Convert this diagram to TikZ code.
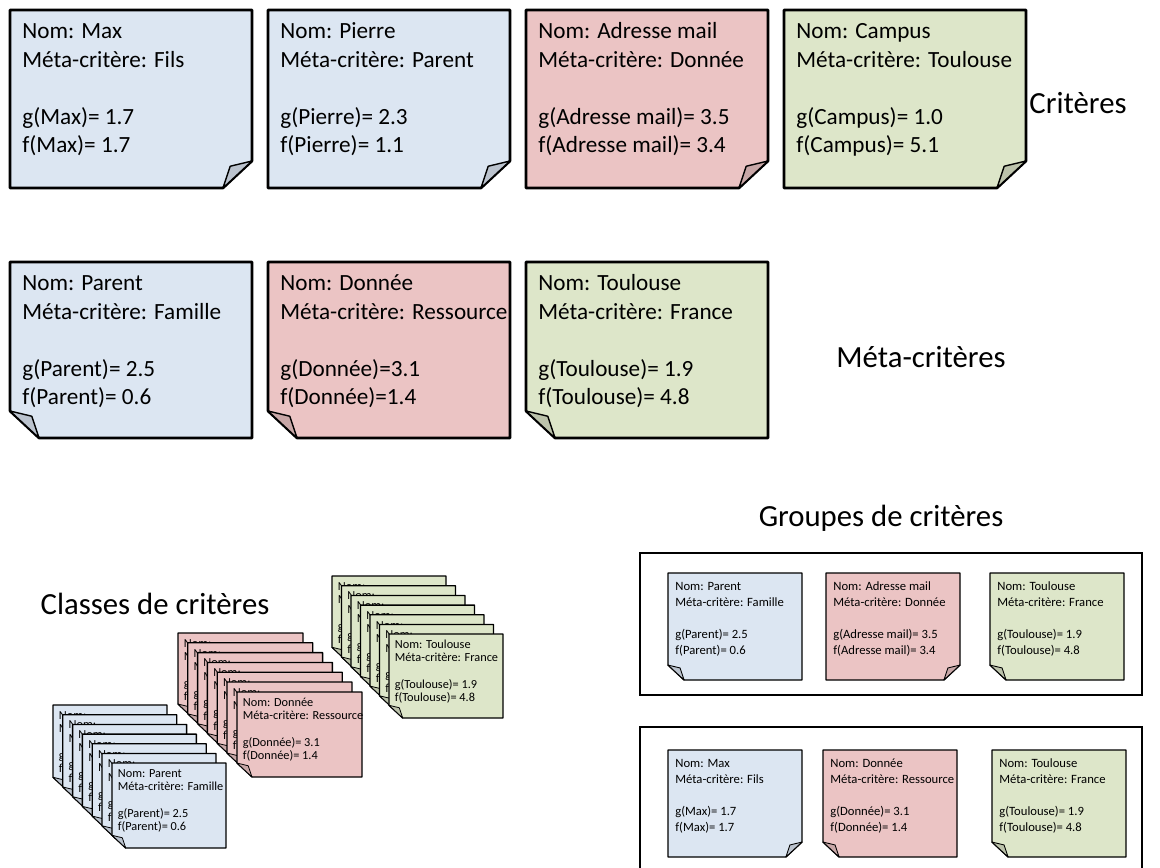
\documentclass[tikz,border=0pt]{standalone}
\usepackage{fontspec}
\setmainfont{Carlito}
\definecolor{cardblue}{HTML}{DCE6F2}
\definecolor{cardred}{HTML}{EBC4C4}
\definecolor{cardgreen}{HTML}{DDE6C9}
\tikzstyle{bigcard} = [line width=1.5pt, line join=round]
\tikzstyle{midcard} = [line width=0.8pt, line join=round]
\tikzstyle{tinycard} = [line width=0.75pt, line join=round]
\tikzstyle{bigcard flap} = [line width=0.8pt, line join=round]
\tikzstyle{midcard flap} = [line width=0.5pt, line join=round]
\tikzstyle{tinycard flap} = [line width=0.45pt, line join=round]
\tikzset{
  bigcard text/.style={font=\fontsize{13.2}{16.3}\selectfont, align=left, inner sep=0pt, xshift=0.24cm, yshift=-0.19cm},
  midcard text/.style={font=\fontsize{7.2}{9.1}\selectfont, align=left, inner sep=0pt, xshift=0.14cm, yshift=-0.15cm},
  tinycard text/.style={font=\fontsize{7}{7.6}\selectfont, align=left, inner sep=0pt, xshift=0.11cm, yshift=-0.08cm},
  title/.style={font=\fontsize{17.5}{21}\selectfont, inner sep=0pt},
  groupbox/.style={line width=0.8pt}
}
% #1 name, #2 top left, #3 width, #4 height, #5 colour, #6 fold (l/r), #7 size, #8 text
\newcommand{\postit}[8]{%
  \begin{scope}[shift={(#2)}]
    \pgfmathsetmacro{\fold}{0.12*#3}
    \if r#6
      \draw[#7, fill=#5] (0,0) -- (#3,0) -- (#3,#4-0.93*\fold) -- (#3-\fold,#4) -- (0,#4) -- cycle;
      \draw[#7 flap, fill=#5!85!black] (#3-\fold,#4) -- (#3-0.75*\fold,#4-0.75*\fold) -- (#3,#4-0.93*\fold) -- cycle;
    \else
      \draw[#7, fill=#5] (0,0) -- (#3,0) -- (#3,#4) -- (\fold,#4) -- (0,#4-0.93*\fold) -- cycle;
      \draw[#7 flap, fill=#5!85!black] (\fold,#4) -- (0.75*\fold,#4-0.75*\fold) -- (0,#4-0.93*\fold) -- cycle;
    \fi
    \node[#7 text, anchor=north west] (#1) at (0,0) {\rule{0pt}{0.8em}#8};
  \end{scope}}

\begin{document}
\begin{tikzpicture}[x=0.02cm, y=-0.02cm]
  \useasboundingbox (0,0) rectangle (1160,867);

  % criteres
  \postit{max}{10,10}{242}{178}{cardblue}{r}{bigcard}{Nom: Max\\Méta-critère: Fils\\[16.3pt]g(Max)= 1.7\\f(Max)= 1.7}
  \postit{pierre}{268,10}{242}{178}{cardblue}{r}{bigcard}{Nom: Pierre\\Méta-critère: Parent\\[16.3pt]g(Pierre)= 2.3\\f(Pierre)= 1.1}
  \postit{mail}{526,10}{242}{178}{cardred}{r}{bigcard}{Nom: Adresse mail\\Méta-critère: Donnée\\[16.3pt]g(Adresse mail)= 3.5\\f(Adresse mail)= 3.4}
  \postit{campus}{784,10}{242}{178}{cardgreen}{r}{bigcard}{Nom: Campus\\Méta-critère: Toulouse\\[16.3pt]g(Campus)= 1.0\\f(Campus)= 5.1}
  \node[title] (critLbl) at (1078,103) {Critères};

  % meta-criteres
  \postit{parent}{10,262}{242}{176}{cardblue}{l}{bigcard}{Nom: Parent\\Méta-critère: Famille\\[16.3pt]g(Parent)= 2.5\\f(Parent)= 0.6}
  \postit{donnee}{268,262}{242}{176}{cardred}{l}{bigcard}{Nom: Donnée\\Méta-critère: Ressource\\[16.3pt]g(Donnée)=3.1\\f(Donnée)=1.4}
  \postit{toulouse}{526,262}{242}{176}{cardgreen}{l}{bigcard}{Nom: Toulouse\\Méta-critère: France\\[16.3pt]g(Toulouse)= 1.9\\f(Toulouse)= 4.8}
  \node[title] (metaLbl) at (921,357) {Méta-critères};

  % classes
  \node[title] (classLbl) at (155,604) {Classes de critères};
  \foreach \i in {0,...,5}
    \postit{vert\i}{332+9.5*\i,576+9.7*\i}{114}{84}{cardgreen}{l}{tinycard}{Nom:\\Méta-critère:\\[7.6pt]g\\f};
  \postit{classvert}{389,634}{114}{84}{cardgreen}{l}{tinycard}{Nom: Toulouse\\Méta-critère: France\\[7.6pt]g(Toulouse)= 1.9\\f(Toulouse)= 4.8}
  \foreach \i in {0,...,5}
    \postit{rouge\i}{178+9.8*\i,633+9.8*\i}{125}{85}{cardred}{l}{tinycard}{Nom:\\Méta-critère:\\[7.6pt]g\\f};
  \postit{classrouge}{237,692}{125}{85}{cardred}{l}{tinycard}{Nom: Donnée\\Méta-critère: Ressource\\[7.6pt]g(Donnée)= 3.1\\f(Donnée)= 1.4}
  \foreach \i in {0,...,5}
    \postit{bleu\i}{53+9.8*\i,705+9.7*\i}{114}{85}{cardblue}{l}{tinycard}{Nom:\\Méta-critère:\\[7.6pt]g\\f};
  \postit{classbleu}{112,763}{114}{85}{cardblue}{l}{tinycard}{Nom: Parent\\Méta-critère: Famille\\[7.6pt]g(Parent)= 2.5\\f(Parent)= 0.6}

  % groupes
  \node[title] (groupLbl) at (881,518) {Groupes de critères};
  \draw[groupbox] (640,553) rectangle (1142,695);
  \postit{grpA1}{668,573}{134}{107}{cardblue}{l}{midcard}{Nom: Parent\\Méta-critère: Famille\\[9.1pt]g(Parent)= 2.5\\f(Parent)= 0.6}
  \postit{grpA2}{826,573}{134}{107}{cardred}{r}{midcard}{Nom: Adresse mail\\Méta-critère: Donnée\\[9.1pt]g(Adresse mail)= 3.5\\f(Adresse mail)= 3.4}
  \postit{grpA3}{990,573}{134}{107}{cardgreen}{l}{midcard}{Nom: Toulouse\\Méta-critère: France\\[9.1pt]g(Toulouse)= 1.9\\f(Toulouse)= 4.8}
  \draw[groupbox] (640,727) rectangle (1142,890);
  \postit{grpB1}{668,750}{134}{107}{cardblue}{r}{midcard}{Nom: Max\\Méta-critère: Fils\\[9.1pt]g(Max)= 1.7\\f(Max)= 1.7}
  \postit{grpB2}{823,750}{134}{107}{cardred}{l}{midcard}{Nom: Donnée\\Méta-critère: Ressource\\[9.1pt]g(Donnée)= 3.1\\f(Donnée)= 1.4}
  \postit{grpB3}{992,750}{134}{107}{cardgreen}{l}{midcard}{Nom: Toulouse\\Méta-critère: France\\[9.1pt]g(Toulouse)= 1.9\\f(Toulouse)= 4.8}
\end{tikzpicture}
\end{document}
